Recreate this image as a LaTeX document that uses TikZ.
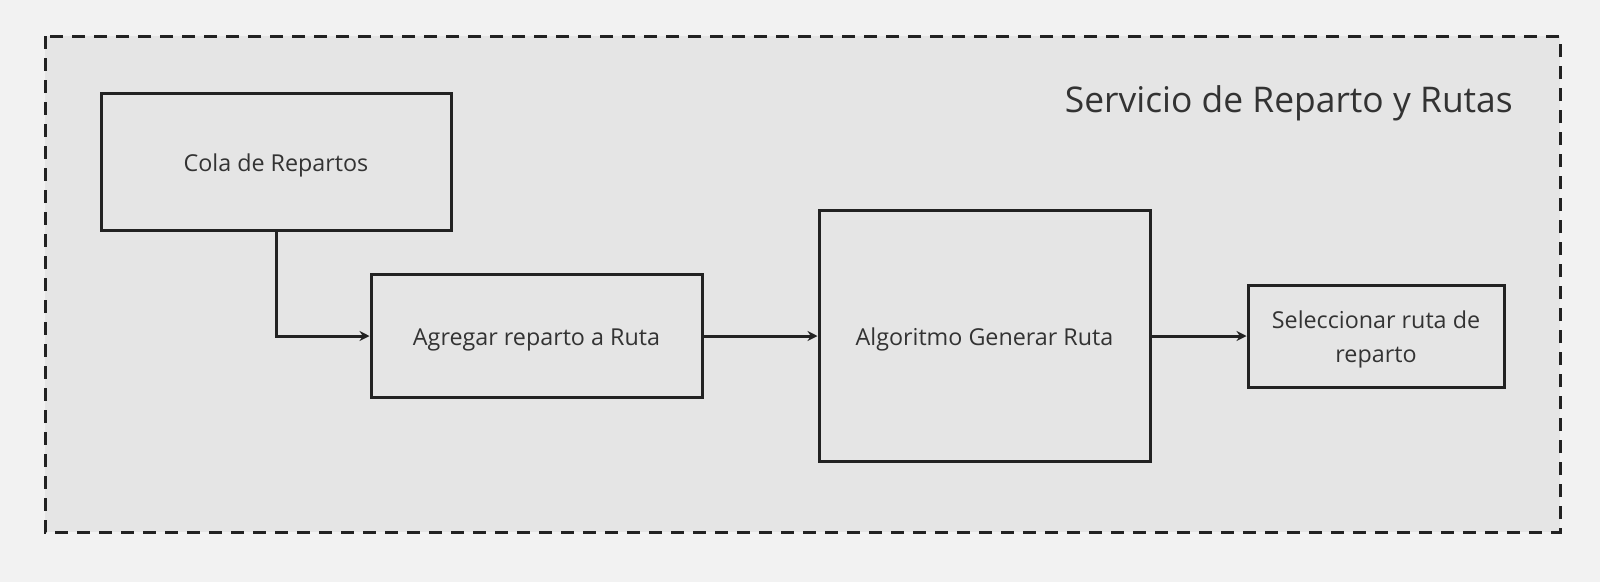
\documentclass[tikz,border=0pt]{standalone}
\usepackage{fontspec}
\setmainfont{Open Sans}
\usetikzlibrary{arrows.meta}
\definecolor{pagebg}{HTML}{F2F2F2}
\definecolor{groupbg}{HTML}{E5E5E5}
\definecolor{ink}{HTML}{222222}
\definecolor{txt}{HTML}{333333}
\begin{document}
\begin{tikzpicture}[x=1pt,y=-1pt,
  box/.style={draw=ink,line width=3pt,fill=groupbg,inner sep=0pt},
  lbl/.style={text=txt,font=\fontsize{23.3}{34}\selectfont,align=center,inner sep=0pt,yshift=-3.5pt},
  conn/.style={draw=ink,line width=3pt,-{Stealth[length=10pt,width=10pt]}}]
\fill[pagebg] (0,0) rectangle (1600,582);
\useasboundingbox (0,0) rectangle (1600,582);
\draw[ink,fill=groupbg,line width=3pt,dash pattern=on 13pt off 9pt] (45,36) rectangle (1560,532);
\node[anchor=east,text=txt,font=\fontsize{35.4}{40}\selectfont,inner sep=0pt] (title) at (1513,103) {Servicio de Reparto y Rutas};
\node[box,minimum width=350pt,minimum height=137pt,label={[lbl]center:Cola de Repartos}] (cola) at (276,161.5) {};
\node[box,minimum width=331pt,minimum height=123pt,label={[lbl]center:Agregar reparto a Ruta}] (agregar) at (536.5,336) {};
\node[box,minimum width=331pt,minimum height=251pt,label={[lbl]center:Algoritmo Generar Ruta}] (algo) at (984.5,336) {};
\node[box,minimum width=256pt,minimum height=102pt,label={[lbl]center:Seleccionar ruta de\\reparto}] (sel) at (1376,336) {};
\draw[conn] (cola.south) |- (agregar.west);
\draw[conn] (agregar.east) -- (algo.west);
\draw[conn] (algo.east) -- (sel.west);
\end{tikzpicture}
\end{document}
